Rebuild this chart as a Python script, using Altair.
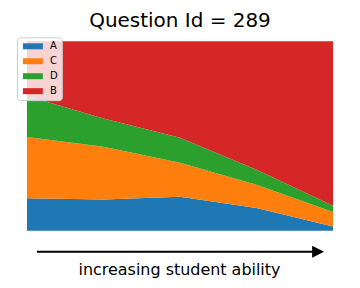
import altair as alt
import pandas as pd

ability = [0, 1, 2, 3, 4]
series_order = ["A", "C", "D", "B"]
colors = ["#1f77b4", "#ff7f0e", "#2ca02c", "#d62728"]
A = [0.172, 0.165, 0.180, 0.120, 0.023]
C = [0.323, 0.279, 0.179, 0.123, 0.076]
D = [0.216, 0.149, 0.132, 0.079, 0.033]
B = [0.289, 0.407, 0.509, 0.678, 0.868]
title_text = "Question Id = 289"
xlabel_text = "increasing student ability"

rows = []
for k, (name, vals) in enumerate(zip(series_order, [A, C, D, B])):
    for x, v in zip(ability, vals):
        rows.append({"ability": x, "answer": name, "share": v, "k": k})
df = pd.DataFrame(rows)

area = alt.Chart(df).mark_area(opacity=1).encode(
    x=alt.X("ability:Q", scale=alt.Scale(domain=[0, 4], nice=False, zero=False), axis=None),
    y=alt.Y("share:Q", stack="zero", scale=alt.Scale(domain=[0, 1], nice=False), axis=None),
    color=alt.Color(
        "answer:N",
        scale=alt.Scale(domain=series_order, range=colors),
        legend=alt.Legend(
            title=None,
            orient="none",
            legendX=-10,
            legendY=-4,
            padding=4,
            symbolType="M-2,-0.6L2,-0.6L2,0.6L-2,0.6Z",
            symbolSize=100,
            symbolStrokeWidth=0,
            symbolOffset=7,
            labelOffset=12,
            labelFontSize=10,
            labelColor="#000000",
            rowPadding=5,
            fillColor="rgba(255,255,255,0.8)",
            strokeColor="#cccccc",
            cornerRadius=3,
        ),
    ),
    order=alt.Order("k:Q"),
)

lab = pd.DataFrame({"label": [xlabel_text]})

arrow_line = alt.Chart(lab).mark_rule(color="black", strokeWidth=2).encode(
    x=alt.value(10), x2=alt.value(287), y=alt.value(211)
)
arrow_head = alt.Chart(lab).mark_point(
    shape="M-1,-1L1,0L-1,1Z", filled=True, color="black", size=144, opacity=1
).encode(x=alt.value(292), y=alt.value(211))
label = alt.Chart(lab).mark_text(fontSize=16, color="black", baseline="middle").encode(
    x=alt.value(153), y=alt.value(229), text="label:N"
)

chart = (
    alt.layer(area, arrow_line, arrow_head, label)
    .properties(
        width=307,
        height=190,
        title=alt.TitleParams(title_text, fontSize=20, fontWeight="normal", anchor="middle", offset=6, color="black"),
        autosize=alt.AutoSizeParams(type="pad"),
        padding={"left": 8, "top": 2, "right": 19, "bottom": 7},
    )
    .configure(font="DejaVu Sans")
    .configure_view(strokeWidth=0)
)

chart.save("out.html", embed_options={"renderer": "svg", "actions": False})
